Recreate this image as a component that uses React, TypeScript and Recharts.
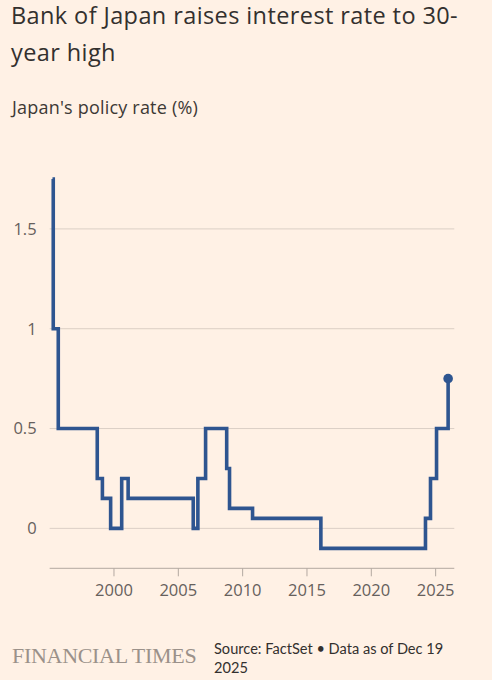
import React from 'react';
import { LineChart, Line, XAxis, YAxis, ReferenceLine } from 'recharts';

const BG = '#fff1e5';
const LINE_BLUE = '#2e5590';
const TEXT_DARK = '#33302e';
const TEXT_MUTED = '#66605c';
const GRID = '#dbcfc5';
const SANS = '"Open Sans", "Noto Sans", sans-serif';
const SMALL = 'Lato, "Noto Sans", sans-serif';

// Decimal year of each rate change and the rate that applies from then on
const CHANGE_YEARS = [
  1995.22, 1995.28, 1995.67, 1998.7, 1999.1, 1999.74, 2000.6, 2001.1,
  2006.16, 2006.52, 2007.12, 2008.76, 2008.98, 2010.77, 2016.08, 2024.21,
  2024.6, 2025.07, 2025.97,
];
const RATES = [
  1.75, 1.0, 0.5, 0.25, 0.15, 0, 0.25, 0.15,
  0, 0.25, 0.5, 0.3, 0.1, 0.05, -0.1, 0.05,
  0.25, 0.5, 0.75,
];
const X_TICKS = [2000, 2005, 2010, 2015, 2020, 2025];
const Y_TICKS = [0, 0.5, 1, 1.5];

const data = CHANGE_YEARS.map((year, i) => ({ year, rate: RATES[i] }));
const lastIndex = data.length - 1;

const titleLine: React.CSSProperties = {
  position: 'absolute',
  left: 11,
  fontSize: 23.5,
  letterSpacing: 0.4,
  lineHeight: '30px',
  whiteSpace: 'nowrap',
};

export default function App() {
  return (
    <div
      style={{
        position: 'absolute',
        top: 0,
        left: 0,
        width: 492,
        height: 680,
        background: BG,
        fontFamily: SANS,
        color: TEXT_DARK,
        overflow: 'hidden',
      }}
    >
      <div style={{ ...titleLine, top: 0 }}>Bank of Japan raises interest rate to 30-</div>
      <div style={{ ...titleLine, top: 37 }}>year high</div>
      <div
        style={{
          position: 'absolute',
          left: 12,
          top: 95.2,
          fontSize: 18,
          letterSpacing: 0.2,
          lineHeight: '24px',
          color: '#3d3935',
        }}
      >
        Japan's policy rate (%)
      </div>

      <div style={{ position: 'absolute', left: 0, top: 0 }}>
        <LineChart
          width={492}
          height={680}
          data={data}
          margin={{ top: 169, right: 37.7, bottom: 81.7, left: 9.65 }}
        >
          {Y_TICKS.map((v) => (
            <ReferenceLine key={v} y={v} stroke={GRID} strokeWidth={1} />
          ))}
          <XAxis
            dataKey="year"
            type="number"
            domain={[1995, 2026.45]}
            ticks={X_TICKS}
            allowDataOverflow
            height={30}
            stroke="#b3a9a1"
            tickSize={8}
            tickMargin={8}
            tick={{ fill: TEXT_MUTED, fontSize: 16.5, fontFamily: SANS }}
          />
          <YAxis
            type="number"
            domain={[-0.2, 1.8]}
            ticks={Y_TICKS}
            allowDataOverflow
            width={40}
            axisLine={false}
            tickLine={false}
            tickSize={0}
            tickMargin={13}
            tick={{ fill: TEXT_MUTED, fontSize: 16.5, fontFamily: SANS }}
          />
          <Line
            dataKey="rate"
            type="stepAfter"
            stroke={LINE_BLUE}
            strokeWidth={3.6}
            strokeLinejoin="miter"
            isAnimationActive={false}
            dot={(props: any) =>
              props.index === lastIndex ? (
                <circle key="last" cx={props.cx} cy={props.cy} r={4.8} fill={LINE_BLUE} />
              ) : (
                <g key={`d-${props.index}`} />
              )
            }
            activeDot={false}
          />
        </LineChart>
      </div>

      <div
        style={{
          position: 'absolute',
          left: 12,
          top: 643.9,
          fontFamily: '"Liberation Serif", serif',
          fontSize: 22,
          color: '#9b918a',
          letterSpacing: -0.3,
          lineHeight: '24px',
          whiteSpace: 'nowrap',
        }}
      >
        FINANCIAL TIMES
      </div>
      <div
        style={{
          position: 'absolute',
          left: 214,
          top: 639,
          fontFamily: SMALL,
          fontSize: 14.6,
          lineHeight: '19px',
          whiteSpace: 'nowrap',
        }}
      >
        Source: FactSet • Data as of Dec 19
        <br />
        2025
      </div>
    </div>
  );
}
